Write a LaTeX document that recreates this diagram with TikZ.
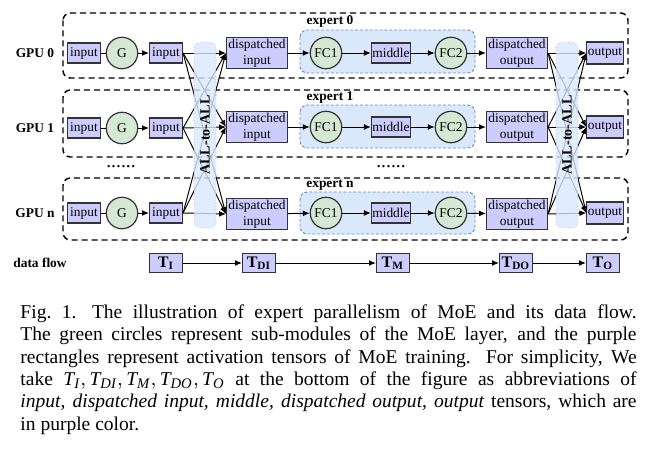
\documentclass[tikz,border=0pt]{standalone}
\usepackage{fontspec}
\setmainfont{Liberation Serif}
\usetikzlibrary{arrows, arrows.meta}
\usetikzlibrary{calc}

\definecolor{tensorfill}{HTML}{CCCCFF}
\definecolor{modfill}{HTML}{D5E8D4}
\definecolor{expfill}{HTML}{DAE8FC}
\definecolor{expline}{HTML}{6C8EBF}
\definecolor{edgecol}{HTML}{333333}

\tikzset{
  tens/.style={rectangle, draw=edgecol, fill=tensorfill, line width=0.5pt, inner sep=0.4pt, align=center, font=\fontsize{5.5}{6.6}\selectfont},
  inbox/.style={tens, minimum width=13.5pt, minimum height=8.2pt},
  dispbox/.style={tens, minimum width=25pt, minimum height=12.7pt},
  midbox/.style={tens, minimum width=16pt, minimum height=8.2pt},
  outbox/.style={tens, minimum width=14.8pt, minimum height=9pt},
  tbox/.style={tens, minimum width=13.5pt, minimum height=7.8pt, font=\fontsize{6.6}{7}\selectfont},
  modl/.style={circle, draw=edgecol, fill=modfill, line width=0.5pt, inner sep=0pt, minimum size=12.9pt, font=\fontsize{5.5}{6.6}\selectfont},
  gpubox/.style={draw, line width=0.6pt, dash pattern=on 2.5pt off 1.6pt, rounded corners=3pt},
  expbox/.style={draw=expline, fill=expfill, line width=0.4pt, dash pattern=on 1.2pt off 0.8pt, rounded corners=3pt},
  band/.style={draw=expline!70, densely dotted, line width=0.3pt, fill=expfill, fill opacity=0.8, text opacity=1, rounded corners=2pt, rotate=90, minimum width=76pt, minimum height=9pt, inner sep=0pt, font=\fontsize{5.8}{6.6}\selectfont\bfseries},
  lbl/.style={font=\fontsize{5.5}{6.6}\selectfont\bfseries},
  arr/.style={-{Latex[length=2.8pt,width=2.4pt]}, line width=0.4pt},
}

\begin{document}
\begin{tikzpicture}[x=0.41pt, y=-0.41pt]
  \useasboundingbox (0,0) rectangle (656,452);

  % GPU areas
  \draw[gpubox] (63,13) rectangle (628,78);
  \draw[gpubox] (63,90) rectangle (628,157);
  \draw[gpubox] (63,178) rectangle (628,240);

  % expert areas
  \draw[expbox] (300,30) rectangle (475,73);
  \draw[expbox] (300,105) rectangle (475,148);
  \draw[expbox] (300,192) rectangle (475,234);
  \node[lbl] (e0) at (330,21) {expert 0};
  \node[lbl] (e1) at (330,97) {expert 1};
  \node[lbl] (en) at (330,185) {expert n};

  \node[lbl] (gpu0) at (35,53) {GPU 0};
  \node[lbl] (gpu1) at (35,128) {GPU 1};
  \node[lbl] (gpun) at (35,213) {GPU n};
  \node[lbl] (flow) at (40,263) {data flow};

  \node[font=\fontsize{8}{8}\selectfont] (dots1) at (121,167) {......};
  \node[font=\fontsize{8}{8}\selectfont] (dots2) at (391,167) {......};

  % GPU 0
  \node[inbox] (in0) at (84,53) {input};
  \node[modl] (G0) at (122,53) {G};
  \node[inbox] (inp0) at (166,53) {input};
  \node[dispbox] (di0) at (257,53) {dispatched\\input};
  \node[modl] (fca0) at (326,53) {FC1};
  \node[midbox] (mid0) at (391,53) {middle};
  \node[modl] (fcb0) at (451,53) {FC2};
  \node[dispbox] (do0) at (517,53) {dispatched\\output};
  \node[outbox] (out0) at (605,53) {output};

  % GPU 1
  \node[inbox] (in1) at (84,128) {input};
  \node[modl] (G1) at (122,128) {G};
  \node[inbox] (inp1) at (166,128) {input};
  \node[dispbox] (di1) at (257,127) {dispatched\\input};
  \node[modl] (fca1) at (326,127) {FC1};
  \node[midbox] (mid1) at (391,127) {middle};
  \node[modl] (fcb1) at (451,127) {FC2};
  \node[dispbox] (do1) at (517,127) {dispatched\\output};
  \node[outbox] (out1) at (605,127) {output};

  % GPU n
  \node[inbox] (inn) at (84,213) {input};
  \node[modl] (Gn) at (122,213) {G};
  \node[inbox] (inpn) at (166,213) {input};
  \node[dispbox] (din) at (257,214) {dispatched\\input};
  \node[modl] (fcan) at (326,213) {FC1};
  \node[midbox] (midn) at (391,213) {middle};
  \node[modl] (fcbn) at (451,213) {FC2};
  \node[dispbox] (don) at (517,214) {dispatched\\output};
  \node[outbox] (outn) at (605,213) {output};

  % data flow
  \node[tbox] (tI) at (166,263) {$\mathbf{T_{I}}$};
  \node[tbox] (tDI) at (259,263) {$\mathbf{T_{DI}}$};
  \node[tbox] (tM) at (393,263) {$\mathbf{T_{M}}$};
  \node[tbox] (tDO) at (516,263) {$\mathbf{T_{DO}}$};
  \node[tbox] (tO) at (603,263) {$\mathbf{T_{O}}$};

  \draw[line width=0.4pt] (in0) -- (G0);
  \draw[line width=0.4pt] (in1) -- (G1);
  \draw[line width=0.4pt] (inn) -- (Gn);
  \draw[arr] (G0) -- (inp0);
  \draw[arr] (G1) -- (inp1);
  \draw[arr] (Gn) -- (inpn);

  \draw[arr] (inp0.east) -- (di0.west);
  \draw[arr] (inp0.east) -- (di1.west);
  \draw[arr] (inp0.east) -- (din.west);
  \draw[arr] (inp1.east) -- (di0.west);
  \draw[arr] (inp1.east) -- (di1.west);
  \draw[arr] (inp1.east) -- (din.west);
  \draw[arr] (inpn.east) -- (di0.west);
  \draw[arr] (inpn.east) -- (di1.west);
  \draw[arr] (inpn.east) -- (din.west);

  \draw[arr] (di0) -- (fca0);
  \draw[arr] (fca0) -- (mid0);
  \draw[arr] (mid0) -- (fcb0);
  \draw[arr] (fcb0) -- (do0);
  \draw[arr] (di1) -- (fca1);
  \draw[arr] (fca1) -- (mid1);
  \draw[arr] (mid1) -- (fcb1);
  \draw[arr] (fcb1) -- (do1);
  \draw[arr] (din) -- (fcan);
  \draw[arr] (fcan) -- (midn);
  \draw[arr] (midn) -- (fcbn);
  \draw[arr] (fcbn) -- (don);

  \draw[arr] (do0.east) -- (out0.west);
  \draw[arr] (do0.east) -- (out1.west);
  \draw[arr] (do0.east) -- (outn.west);
  \draw[arr] (do1.east) -- (out0.west);
  \draw[arr] (do1.east) -- (out1.west);
  \draw[arr] (do1.east) -- (outn.west);
  \draw[arr] (don.east) -- (out0.west);
  \draw[arr] (don.east) -- (out1.west);
  \draw[arr] (don.east) -- (outn.west);

  \draw[arr] (tI) -- (tDI);
  \draw[arr] (tDI) -- (tM);
  \draw[arr] (tM) -- (tDO);
  \draw[arr] (tDO) -- (tO);

  % all-to-all bands over the wires
  \node[band] (a2a1) at (205,135) {ALL-to-ALL};
  \node[band] (a2a2) at (567,135) {ALL-to-ALL};

  \node[anchor=north west, inner sep=0pt, text width=252.6pt, align=justify, font=\fontsize{8}{9.2}\selectfont] (cap) at (20,304)
    {Fig.~1.\hskip 0.8em The illustration of expert parallelism of MoE and its data flow.\linebreak
     The green circles represent sub-modules of the MoE layer, and the purple\linebreak
     rectangles represent activation tensors of MoE training. For simplicity, We\linebreak
     take $\mathit{T_I}, \mathit{T_{DI}}, \mathit{T_M}, \mathit{T_{DO}}, \mathit{T_O}$ at the bottom of the figure as abbreviations of\linebreak
     \textit{input, dispatched input, middle, dispatched output, output} tensors, which are\linebreak
     in purple color.};
\end{tikzpicture}
\end{document}
